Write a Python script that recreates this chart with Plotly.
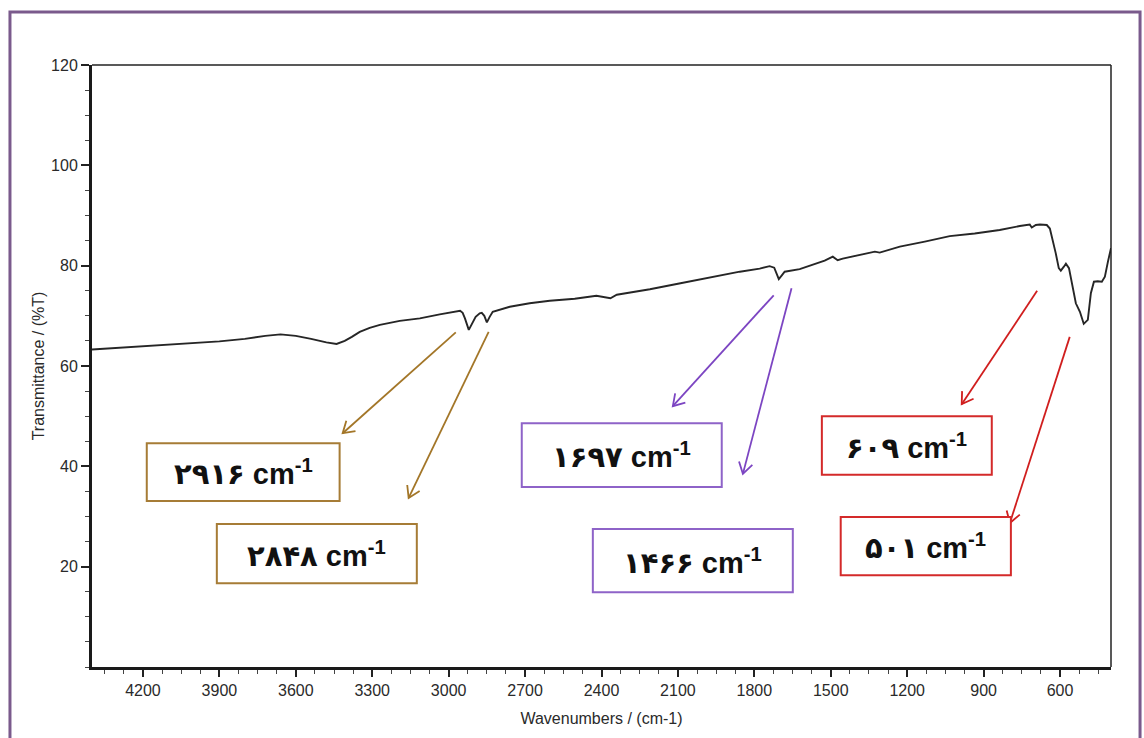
import math
import plotly.graph_objects as go

# FTIR spectrum: wavenumber (cm-1) vs transmittance (%T)
wavenumber = [
    4400, 4300, 4200, 4100, 4000, 3900, 3800, 3720, 3660, 3600, 3540, 3480, 3440,
    3408, 3380, 3349, 3310, 3270, 3192, 3113, 3035, 2976, 2955, 2945, 2936, 2921,
    2909, 2894, 2878, 2870, 2860, 2850, 2839, 2827, 2760, 2682, 2603, 2505, 2420,
    2390, 2365, 2340, 2210, 2100, 2014, 1936, 1857, 1779, 1740, 1722, 1712, 1704,
    1693, 1681, 1622, 1563, 1524, 1492, 1473, 1453, 1386, 1327, 1308, 1229, 1131,
    1033, 935, 837, 758, 719, 711, 695, 679, 652, 640, 628, 617, 605, 597, 585,
    577, 565, 554, 538, 522, 507, 491, 479, 467, 452, 436, 424, 412, 400,
]
transmittance = [
    63.3, 63.6, 63.9, 64.2, 64.5, 64.9, 65.4, 66.0, 66.3, 66.0, 65.4, 64.7, 64.4,
    65.0, 65.8, 66.8, 67.6, 68.2, 69.0, 69.5, 70.3, 70.8, 71.0, 70.6, 69.5, 67.2,
    68.5, 69.8, 70.5, 70.6, 70.0, 68.7, 69.8, 70.8, 71.8, 72.5, 73.0, 73.4, 74.0,
    73.8, 73.5, 74.2, 75.3, 76.4, 77.3, 78.1, 78.8, 79.4, 79.9, 79.6, 78.3, 77.3,
    78.0, 78.8, 79.3, 80.4, 81.0, 81.8, 81.1, 81.4, 82.1, 82.8, 82.6, 83.8, 84.8,
    85.9, 86.4, 87.1, 87.9, 88.2, 87.6, 88.1, 88.2, 88.1, 87.4, 85.1, 82.5, 79.5,
    79.0, 79.8, 80.4, 79.5, 76.5, 72.5, 70.8, 68.4, 69.2, 74.5, 76.8, 76.9, 76.8,
    77.8, 80.8, 83.5,
]

# Peak labels (Persian digits) and their box / arrow placement in data units
peak_labels = ["۲۹۱۶", "۲۸۴۸", "۱۶۹۷", "۱۴۶۶", "۶۰۹", "۵۰۱"]
arrow_colors = ["#A37628", "#A37628", "#7C45C2", "#7C45C2", "#D01E1E", "#D01E1E"]
box_colors = ["#A67C36", "#A67C36", "#8E63C8", "#8E63C8", "#D42A2A", "#D42A2A"]
# box extents: (wn_left, wn_right, T_top, T_bottom)
box_x0 = [4185, 3910, 2713, 2434, 1535, 1461]
box_x1 = [3428, 3125, 1928, 1649, 868, 793]
box_y0 = [44.6, 28.5, 48.6, 27.5, 50.0, 29.9]
box_y1 = [33.1, 16.7, 35.9, 14.9, 38.3, 18.3]
# arrow tail (near the band) and head
arrow_tail_x = [2972, 2843, 1724, 1654, 690, 562]
arrow_tail_y = [66.7, 66.8, 74.1, 75.5, 75.0, 65.8]
arrow_head_x = [3416, 3157, 2120, 1845, 986, 797]
arrow_head_y = [46.6, 33.7, 52.0, 38.5, 52.4, 28.7]

x_ticks = [4200, 3900, 3600, 3300, 3000, 2700, 2400, 2100, 1800, 1500, 1200, 900, 600]
y_ticks = [20, 40, 60, 80, 100, 120]

X_RANGE = [4400, 400]
Y_RANGE = [0, 120]
W, H = 1144, 738
M = dict(l=92, r=33, t=65, b=71)

# pixel scale of the plotting area, used to shape the arrowheads
sx = (W - M["l"] - M["r"]) / (X_RANGE[1] - X_RANGE[0])   # px per cm-1 (negative: reversed)
sy = (H - M["t"] - M["b"]) / (Y_RANGE[1] - Y_RANGE[0])   # px per %T

fig = go.Figure()
fig.add_trace(go.Scatter(
    x=wavenumber, y=transmittance, mode="lines",
    line=dict(color="#262626", width=1.9), showlegend=False, hoverinfo="skip",
))

shapes = []
annotations = []
for i, lab in enumerate(peak_labels):
    shapes.append(dict(
        type="rect", xref="x", yref="y",
        x0=box_x0[i], x1=box_x1[i], y0=box_y0[i], y1=box_y1[i],
        line=dict(color=box_colors[i], width=2), fillcolor="white", layer="above",
    ))
    annotations.append(dict(
        x=(box_x0[i] + box_x1[i]) / 2, y=(box_y0[i] + box_y1[i]) / 2,
        xref="x", yref="y", showarrow=False,
        text=f"{lab} cm<sup>-1</sup>",
        font=dict(family="Liberation Sans, DejaVu Sans, Arial", size=29, color="#111111",
                  weight="bold"),
    ))

# arrows: shaft plus an open V head, one trace per colour
head_len, head_ang = 13.0, math.radians(32)
for color in dict.fromkeys(arrow_colors):
    xs, ys = [], []
    for i in range(len(peak_labels)):
        if arrow_colors[i] != color:
            continue
        tx, ty = arrow_tail_x[i], arrow_tail_y[i]
        hx, hy = arrow_head_x[i], arrow_head_y[i]
        dx, dy = (hx - tx) * sx, (hy - ty) * sy
        n = math.hypot(dx, dy)
        ux, uy = dx / n, dy / n
        wings = []
        for s in (1, -1):
            c, si = math.cos(s * head_ang), math.sin(s * head_ang)
            bx = -(ux * c - uy * si) * head_len
            by = -(ux * si + uy * c) * head_len
            wings.append((hx + bx / sx, hy + by / sy))
        xs += [tx, hx, None, wings[0][0], hx, wings[1][0], None]
        ys += [ty, hy, None, wings[0][1], hy, wings[1][1], None]
    fig.add_trace(go.Scatter(
        x=xs, y=ys, mode="lines", line=dict(color=color, width=1.8),
        showlegend=False, hoverinfo="skip",
    ))

# top and right frame of the plotting box (thinner than the axes)
shapes.append(dict(type="line", xref="paper", yref="paper", x0=0, x1=1, y0=1, y1=1,
                   line=dict(color="#222222", width=1.5)))
shapes.append(dict(type="line", xref="paper", yref="paper", x0=1, x1=1, y0=0, y1=1,
                   line=dict(color="#222222", width=1.5)))
# outer purple page border
shapes.append(dict(type="rect", xref="paper", yref="paper",
                   x0=-0.0805, x1=1.0285, y0=-0.2, y1=1.088,
                   line=dict(color="#7A5A8C", width=3), fillcolor="rgba(0,0,0,0)"))

fig.update_layout(
    width=W, height=H, autosize=False, margin=M,
    paper_bgcolor="white", plot_bgcolor="white",
    font=dict(family="Liberation Sans, Arial", color="#2a2a2a"),
    shapes=shapes, annotations=annotations,
)
fig.update_xaxes(
    range=X_RANGE, tickmode="array", tickvals=x_ticks,
    ticks="outside", ticklen=7, tickwidth=1.5, tickcolor="#222",
    showline=True, linecolor="#1a1a1a", linewidth=3, mirror=False,
    showgrid=False, zeroline=False,
    tickfont=dict(size=16, color="#2a2a2a"),
    minor=dict(dtick=75, tick0=600, ticks="outside", ticklen=4, tickwidth=1.2,
               tickcolor="#444", showgrid=False),
    title=dict(text="Wavenumbers / (cm-1)", font=dict(size=16, color="#2a2a2a"), standoff=15),
)
fig.update_yaxes(
    range=Y_RANGE, tickmode="array", tickvals=y_ticks,
    ticks="outside", ticklen=8, tickwidth=1.5, tickcolor="#222",
    showline=True, linecolor="#1a1a1a", linewidth=3, mirror=False,
    showgrid=False, zeroline=False,
    tickfont=dict(size=16, color="#2a2a2a"),
    minor=dict(dtick=5, tick0=0, ticks="outside", ticklen=4, tickwidth=1.2,
               tickcolor="#444", showgrid=False),
    title=dict(text="Transmittance / (%T)", font=dict(size=16, color="#2a2a2a"), standoff=3),
)

fig.write_html("out.html")
